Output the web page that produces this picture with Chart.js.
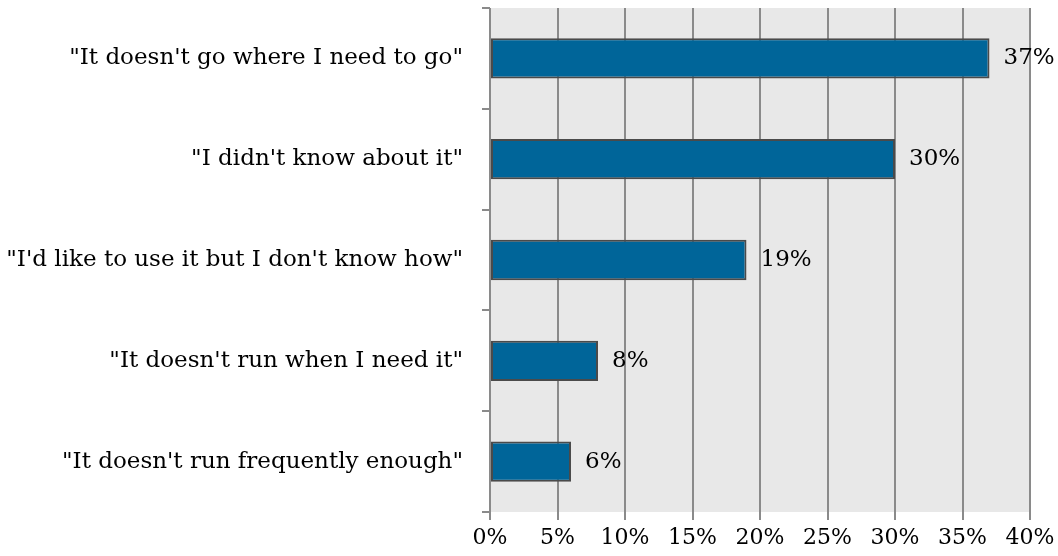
<!DOCTYPE html>
<html>
<head>
<meta charset="utf-8">
<script src="https://cdn.jsdelivr.net/npm/chart.js@4/dist/chart.umd.min.js"></script>
<style>
  html, body { margin: 0; padding: 0; background: #fff; }
  #wrap { width: 1058px; height: 556px; }
</style>
</head>
<body>
<div id="wrap"><canvas id="chart" width="1058" height="556"></canvas></div>
<script>
// data
const categories = [
    "\"It doesn't go where I need to go\"",
    "\"I didn't know about it\"",
    "\"I'd like to use it but I don't know how\"",
    "\"It doesn't run when I need it\"",
    "\"It doesn't run frequently enough\""
];
const shares = [37, 30, 19, 8, 6];
const xTicks = [0, 5, 10, 15, 20, 25, 30, 35, 40];

const FONT = "'DejaVu Serif', serif";

// grey plot background
const plotBg = {
    id: "plotBg",
    beforeDraw(chart) {
        const { ctx, chartArea: a } = chart;
        ctx.save();
        ctx.fillStyle = "#e8e8e8";
        ctx.fillRect(a.left, a.top, a.right - a.left, a.bottom - a.top);
        ctx.restore();
    }
};

// value labels after each bar
const valueLabels = {
    id: "valueLabels",
    afterDatasetsDraw(chart) {
        const { ctx } = chart;
        const meta = chart.getDatasetMeta(0);
        ctx.save();
        ctx.fillStyle = "#000";
        ctx.font = "23px " + FONT;
        ctx.textAlign = "left";
        ctx.textBaseline = "middle";
        meta.data.forEach((bar, i) => {
            ctx.fillText(shares[i] + "%", bar.x + 14, bar.y);
        });
        ctx.restore();
    }
};

new Chart(document.getElementById("chart"), {
    type: "bar",
    data: {
        labels: categories,
        datasets: [{
            data: shares,
            backgroundColor: "#006599",
            borderColor: "#4a4a4a",
            borderWidth: 2,
            borderSkipped: false,
            barPercentage: 0.4,
            categoryPercentage: 1
        }]
    },
    options: {
        indexAxis: "y",
        responsive: false,
        animation: false,
        layout: { padding: { top: 8, right: 28, left: 0, bottom: 0 } },
        plugins: { legend: { display: false }, tooltip: { enabled: false } },
        scales: {
            x: {
                min: 0,
                max: 40,
                afterBuildTicks: s => { s.ticks = xTicks.map(v => ({ value: v })); },
                afterFit: s => { s.height = 44; s.paddingRight = 0; s.paddingLeft = 0; },
                grid: { color: "#8a8a8a", lineWidth: 2, tickLength: 8 },
                border: { display: false },
                ticks: {
                    color: "#000",
                    font: { family: FONT, size: 22 },
                    padding: 5,
                    maxRotation: 0,
                    callback: v => v + "%"
                }
            },
            y: {
                afterFit: s => { s.width = 490; s.paddingTop = 0; s.paddingBottom = 0; },
                grid: { offset: true, drawOnChartArea: false, color: "#8a8a8a", lineWidth: 2, tickLength: 8 },
                border: { display: false },
                ticks: {
                    color: "#000",
                    font: { family: FONT, size: 23 },
                    padding: 19
                }
            }
        }
    },
    plugins: [plotBg, valueLabels]
});
</script>
</body>
</html>
